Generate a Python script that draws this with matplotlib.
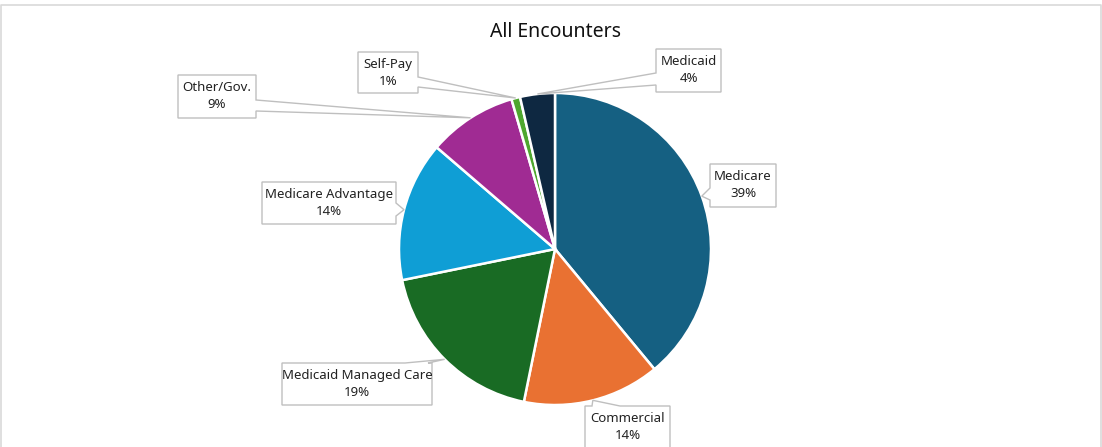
import numpy as np
import matplotlib.pyplot as plt
from matplotlib.patches import Polygon

# data (share of encounters, %)
payers = ["Medicare", "Commercial", "Medicaid Managed Care", "Medicare Advantage",
          "Other/Gov.", "Self-Pay", "Medicaid"]
shares = [39.0, 14.2, 18.6, 14.5, 9.2, 0.9, 3.6]
colors = ["#156082", "#E97132", "#196B24", "#0F9ED5", "#A02B93", "#4EA72E", "#0E2841"]

plt.rcParams['font.family'] = ['Noto Sans', 'DejaVu Sans']

W, H = 1102, 447
fig = plt.figure(figsize=(W / 100, H / 100), dpi=100)
ax = fig.add_axes([0, 0, 1, 1])

cx, cy, r = 555, 249, 156   # pie centre / radius in image pixels

ax.pie(shares, colors=colors, startangle=90, counterclock=False,
       center=(cx, H - cy), radius=r,
       wedgeprops=dict(edgecolor="white", linewidth=1.8))
ax.set_xlim(0, W)
ax.set_ylim(0, H)
ax.set_aspect("equal")
ax.axis("off")

ax.text(cx, H - 32, "All Encounters", ha="center", va="center", fontsize=14, color="#111111")

# callout boxes: (x0, y0, x1, y1, side, base_a, base_b) in image pixels
boxes = {
    "Medicare": (710, 164, 776, 207, "left", 188, 200),
    "Commercial": (585, 406, 670, 452, "top", 592, 620),
    "Medicaid Managed Care": (282, 363, 432, 405, "top", 405, 428),
    "Medicare Advantage": (262, 182, 396, 224, "right", 203, 216),
    "Other/Gov.": (178, 75, 256, 118, "right", 100, 111),
    "Self-Pay": (358, 52, 418, 93, "right", 77, 87),
    "Medicaid": (656, 49, 721, 92, "left", 73, 85),
}

cum = np.cumsum([0] + shares)
total = cum[-1]
for i, name in enumerate(payers):
    mid = (cum[i] + cum[i + 1]) / 2 / total * 2 * np.pi
    tip = (cx + r * np.sin(mid), cy - r * np.cos(mid))
    x0, y0, x1, y1, side, a, b = boxes[name]
    if side == "right":
        pts = [(x0, y0), (x1, y0), (x1, a), tip, (x1, b), (x1, y1), (x0, y1)]
    elif side == "left":
        pts = [(x0, y0), (x1, y0), (x1, y1), (x0, y1), (x0, b), tip, (x0, a)]
    else:  # top
        pts = [(x0, y0), (a, y0), tip, (b, y0), (x1, y0), (x1, y1), (x0, y1)]
    pts = [(px, H - py) for px, py in pts]
    ax.add_patch(Polygon(pts, closed=True, facecolor="white", edgecolor="#bfbfbf",
                         linewidth=1.0, zorder=3))
    ax.text((x0 + x1) / 2, H - (y0 + 21), f"{name}\n{shares[i]:.0f}%", ha="center",
            va="center", fontsize=9.5, color="#222222", linespacing=1.45, zorder=4)

# chart area border
ax.plot([0.5, 0.5, W - 1.5, W - 1.5], [0, H - 4.5, H - 4.5, 0], color="#d9d9d9",
        linewidth=1.2, clip_on=False)

fig.savefig("out.png", dpi=100)
